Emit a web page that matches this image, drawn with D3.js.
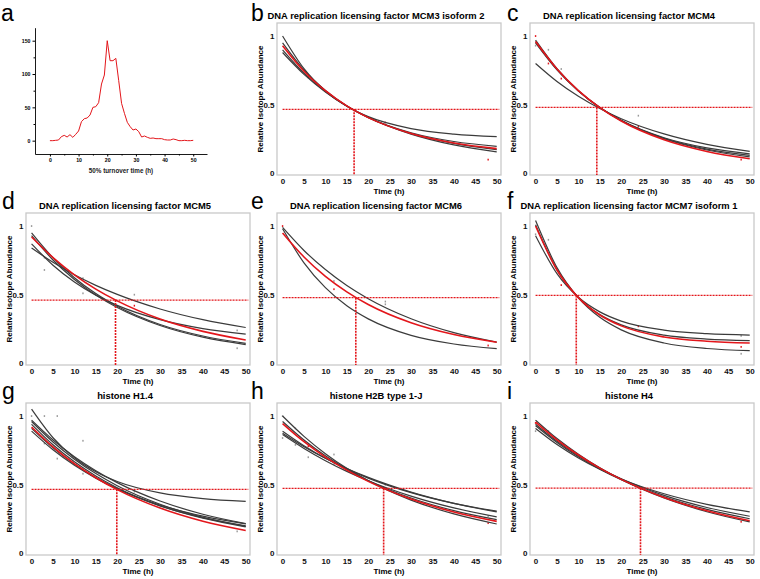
<!DOCTYPE html>
<html>
<head>
<meta charset="utf-8">
<title>Protein turnover curves</title>
<script src="https://cdn.jsdelivr.net/npm/d3@7/dist/d3.min.js"></script>
<style>
body { margin: 0; background: #fff; }
svg text { font-family: "Liberation Sans", Arial, sans-serif; }
</style>
</head>
<body>
<script>
// panel a: distribution of 50% turnover times
var turnoverHours = [0,1,2,3,4,5,6,7,8,9,10,11,12,13,14,15,16,17,18,19,20,21,22,23,24,25,
    26,27,28,29,30,31,32,33,34,35,36,37,38,39,40,41,42,43,44,45,46,47,48,49,50];
var turnoverCounts = [0,0,0.5,1,6,8,5.5,9,5,9.5,14.5,28.5,33,34,38.5,50,51,57,85,98.5,150,120,120,123.5,90,56,
    41,27.5,21,16,17.5,13.5,5.5,7,5,3.5,4,3,3,3,1.5,1,1,2.5,1.5,0,0,0.5,0,0,0.5];
var turnoverTicks = [0,10,20,30,40,50];
var countTicks = [0,50,100,150];

// panels b-i: fitted decay curves, sampled at these times (h)
var sampleTimes = [0,5,10,15,20,30,40,50];
var timeTicks = [0,5,10,15,20,25,30,35,40,45,50];
var abundanceTicks = [0,0.5,1];

var panelLetters = ["b","c","d","e","f","g","h","i"];
var panelTitles = [
    "DNA replication licensing factor MCM3 isoform 2",
    "DNA replication licensing factor MCM4",
    "DNA replication licensing factor MCM5",
    "DNA replication licensing factor MCM6",
    "DNA replication licensing factor MCM7 isoform 1",
    "histone H1.4",
    "histone H2B type 1-J",
    "histone H4"
];
var halfLifeTimes = [16.7, 14.3, 19.6, 17.1, 9.5, 19.9, 23.6, 24.5];
var halfLifeLevels = [0.466, 0.48, 0.461, 0.478, 0.495, 0.466, 0.473, 0.475];

var blackB = [
    [1.00,0.762,0.600,0.489,0.413,0.326,0.286,0.267],
    [0.95,0.752,0.603,0.491,0.407,0.296,0.232,0.197],
    [0.90,0.730,0.596,0.490,0.407,0.290,0.218,0.173],
    [0.88,0.721,0.593,0.490,0.407,0.286,0.207,0.156]
];
var redB = [0.93,0.744,0.602,0.491,0.406,0.290,0.221,0.180];
var blackC = [
    [0.80,0.669,0.561,0.472,0.398,0.287,0.211,0.160],
    [0.97,0.762,0.602,0.480,0.386,0.259,0.185,0.142],
    [0.96,0.758,0.601,0.479,0.385,0.255,0.177,0.131],
    [0.95,0.753,0.600,0.479,0.384,0.252,0.170,0.120]
];
var redC = [0.96,0.760,0.603,0.479,0.381,0.244,0.159,0.106];
var blackD = [
    [0.84,0.736,0.645,0.568,0.502,0.396,0.318,0.261],
    [0.87,0.715,0.593,0.497,0.422,0.318,0.253,0.213],
    [0.95,0.769,0.624,0.508,0.416,0.283,0.199,0.145],
    [0.93,0.753,0.611,0.498,0.407,0.276,0.191,0.137]
];
var redD = [0.92,0.770,0.645,0.541,0.455,0.323,0.233,0.170];
var blackE = [
    [0.99,0.822,0.683,0.567,0.471,0.325,0.224,0.155],
    [0.98,0.732,0.551,0.419,0.324,0.204,0.141,0.107]
];
var redE = [0.95,0.775,0.634,0.521,0.429,0.296,0.210,0.154];
var blackF = [
    [1.04,0.697,0.477,0.335,0.244,0.148,0.108,0.092],
    [1.01,0.681,0.479,0.355,0.280,0.205,0.177,0.166],
    [0.93,0.653,0.481,0.375,0.308,0.242,0.216,0.206]
];
var redF = [1.00,0.680,0.479,0.352,0.273,0.192,0.161,0.148];
var blackG = [
    [1.05,0.842,0.696,0.594,0.523,0.440,0.399,0.379],
    [0.97,0.826,0.704,0.602,0.515,0.381,0.285,0.217],
    [0.96,0.811,0.686,0.581,0.493,0.358,0.263,0.197],
    [0.94,0.791,0.667,0.564,0.478,0.347,0.256,0.193],
    [0.91,0.768,0.650,0.551,0.470,0.346,0.260,0.200],
    [0.89,0.754,0.641,0.548,0.470,0.352,0.271,0.215]
];
var redG = [0.92,0.775,0.653,0.551,0.464,0.330,0.234,0.167];
var blackH = [
    [1.00,0.852,0.726,0.619,0.529,0.388,0.287,0.214],
    [0.96,0.825,0.710,0.613,0.531,0.403,0.311,0.245],
    [0.89,0.784,0.693,0.615,0.548,0.442,0.364,0.307],
    [0.875,0.777,0.692,0.618,0.553,0.446,0.364,0.302],
    [0.865,0.764,0.675,0.597,0.529,0.417,0.331,0.266]
];
var redH = [0.945,0.813,0.701,0.606,0.524,0.395,0.301,0.233];
var blackI = [
    [0.91,0.793,0.695,0.612,0.542,0.434,0.357,0.302],
    [0.94,0.816,0.710,0.620,0.543,0.422,0.334,0.270],
    [0.97,0.836,0.722,0.623,0.538,0.403,0.303,0.229],
    [0.93,0.808,0.703,0.613,0.536,0.412,0.320,0.252]
];
var redI = [0.955,0.826,0.716,0.621,0.539,0.407,0.310,0.237];

// measured points [time, abundance, isRed]
var pointsB = [[6,0.70,1],[24,0.37,1],[48,0.10,1]];
var pointsC = [[0,1.0,1],[0,0.93,0],[3,0.90,0],[3,0.80,1],[6,0.69,1],[6,0.76,0],[24,0.42,0],[24,0.34,1],[48,0.10,1]];
var pointsD = [[0,1.0,0],[3,0.77,0],[3,0.68,0],[12,0.62,0],[12,0.51,0],[24,0.50,0],[24,0.42,1],[48,0.11,0],[48,0.24,0]];
var pointsE = [[0,1.0,1],[12,0.54,1],[12,0.60,0],[24,0.45,0],[24,0.43,0],[48,0.13,1]];
var pointsF = [[0,0.94,0],[3,0.90,0],[6,0.57,1],[24,0.27,1],[48,0.12,1],[48,0.07,0],[48,0.20,0]];
var pointsG = [[0,1.0,0],[3,1.0,0],[6,1.0,0],[3,0.80,0],[6,0.69,0],[12,0.82,0],[12,0.58,0],[24,0.45,0],[48,0.16,0]];
var pointsH = [[0,0.84,0],[0,1.0,0],[3,0.91,0],[3,0.79,0],[6,0.70,0],[6,0.78,1],[12,0.72,0],[12,0.65,0],[24,0.50,0],[48,0.22,1],[48,0.27,0]];
var pointsI = [[0,0.95,1],[0,0.89,0],[3,0.89,0],[48,0.23,1]];

var blackSets = [blackB, blackC, blackD, blackE, blackF, blackG, blackH, blackI];
var redSets = [redB, redC, redD, redE, redF, redG, redH, redI];
var pointSets = [pointsB, pointsC, pointsD, pointsE, pointsF, pointsG, pointsH, pointsI];

var RED = "#e3161b";
var svg = d3.select("body").append("svg")
    .attr("width", 760)
    .attr("height", 579);

// ---- panel a ----
var ax = d3.scaleLinear().domain([-5.2, 54.8]).range([35, 207]);
var ay = d3.scaleLinear().domain([-20, 169.5]).range([154, 27.7]);
var ga = svg.append("g");
ga.append("g")
    .attr("transform", "translate(0,154)")
    .call(d3.axisBottom(ax).tickValues(turnoverTicks).tickSize(2.5).tickPadding(2).tickSizeOuter(0))
    .call(function(g){ g.selectAll("text").attr("font-size", 5.2).attr("font-weight", "bold").attr("font-family", "Liberation Sans"); });
ga.append("g")
    .attr("transform", "translate(0,154)")
    .call(d3.axisBottom(ax).tickValues([5,15,25,35,45]).tickSize(1.5).tickFormat("").tickSizeOuter(0))
    .call(function(g){ g.select(".domain").remove(); });
ga.append("g")
    .attr("transform", "translate(35,0)")
    .call(d3.axisLeft(ay).tickValues(countTicks).tickSize(2.5).tickPadding(2).tickSizeOuter(0))
    .call(function(g){ g.selectAll("text").attr("font-size", 5.2).attr("font-weight", "bold").attr("font-family", "Liberation Sans"); });
ga.append("g")
    .attr("transform", "translate(35,0)")
    .call(d3.axisLeft(ay).tickValues([25,75,125]).tickSize(1.5).tickFormat("").tickSizeOuter(0))
    .call(function(g){ g.select(".domain").remove(); });
ga.selectAll(".domain").attr("stroke-width", 0.9);
ga.append("path")
    .datum(turnoverCounts)
    .attr("fill", "none")
    .attr("stroke", RED)
    .attr("stroke-width", 1)
    .attr("d", d3.line()
        .x(function(d, i){ return ax(turnoverHours[i]); })
        .y(function(d){ return ay(d); }));
ga.append("text")
    .attr("x", 121).attr("y", 173)
    .attr("text-anchor", "middle")
    .attr("font-size", 6.3)
    .attr("font-weight", "bold")
    .attr("fill", "#222")
    .text("50% turnover time (h)");
svg.append("text")
    .attr("x", 1).attr("y", 20.7)
    .attr("font-size", 23)
    .text("a");

// ---- panels b-i ----
var colLeft = [26, 277, 530],
    rowTop = [23, 213, 403],
    letterX = [2, 251, 507],
    letterBase = [21, 208.5, 398.5],
    W = 224, H = 152;

panelTitles.forEach(function(title, i) {
    var slot = i + 1,
        col = slot % 3,
        row = Math.floor(slot / 3),
        left = colLeft[col],
        top = rowTop[row];

    var x = d3.scaleLinear().domain([-1.3, 51]).range([left, left + W]);
    var y = d3.scaleLinear().domain([-0.012, 1.095]).range([top + H, top]);
    var g = svg.append("g");

    g.append("rect")
        .attr("x", left).attr("y", top)
        .attr("width", W).attr("height", H)
        .attr("fill", "none")
        .attr("stroke", "#c9c9c9")
        .attr("stroke-width", 1.3);

    g.append("g")
        .attr("transform", "translate(0," + (top + H) + ")")
        .call(d3.axisBottom(x).tickValues(timeTicks).tickSize(0).tickPadding(3.5))
        .call(function(a){ a.select(".domain").remove(); });
    g.append("g")
        .attr("transform", "translate(" + (left - 0.5) + ",0)")
        .call(d3.axisLeft(y).tickValues(abundanceTicks).tickSize(0).tickPadding(2)
            .tickFormat(function(d){ return d === 0.5 ? "0.5" : d3.format("d")(d); }))
        .call(function(a){ a.select(".domain").remove(); });
    g.selectAll(".tick text")
        .attr("font-size", 8)
        .attr("font-weight", "bold")
        .attr("font-family", "Liberation Sans")
        .attr("fill", "#111");

    g.append("text")
        .attr("x", left + W / 2).attr("y", top + H + 18.5)
        .attr("text-anchor", "middle")
        .attr("font-size", 8).attr("font-weight", "bold")
        .text("Time (h)");
    g.append("text")
        .attr("transform", "translate(" + (left - 14) + "," + (top + H / 2) + ") rotate(-90)")
        .attr("text-anchor", "middle")
        .attr("font-size", 8).attr("font-weight", "bold")
        .text("Relative Isotope Abundance");
    g.append("text")
        .attr("x", left + W / 2 - 13).attr("y", top - 4.5)
        .attr("text-anchor", "middle")
        .attr("font-size", 9.4).attr("font-weight", "bold")
        .text(title);
    svg.append("text")
        .attr("x", letterX[col]).attr("y", letterBase[row])
        .attr("font-size", 23)
        .text(panelLetters[i]);

    var line = d3.line()
        .x(function(d, j){ return x(sampleTimes[j]); })
        .y(function(d){ return y(d); })
        .curve(d3.curveMonotoneX);

    g.selectAll("rect.pt")
        .data(pointSets[i])
        .enter().append("rect")
        .attr("class", "pt")
        .attr("x", function(d){ return x(d[0]) - 0.7; })
        .attr("y", function(d){ return y(d[1]) - 0.9; })
        .attr("width", 1.4).attr("height", 1.8)
        .attr("fill", function(d){ return d[2] ? RED : "#9a9a9a"; });

    g.selectAll("path.fit")
        .data(blackSets[i])
        .enter().append("path")
        .attr("class", "fit")
        .attr("fill", "none")
        .attr("stroke", "#3b3b3b")
        .attr("stroke-width", 1.2)
        .attr("d", line);
    g.append("path")
        .datum(redSets[i])
        .attr("fill", "none")
        .attr("stroke", RED)
        .attr("stroke-width", 1.6)
        .attr("d", line);

    g.append("line")
        .attr("x1", x(0)).attr("x2", x(50.6))
        .attr("y1", y(halfLifeLevels[i])).attr("y2", y(halfLifeLevels[i]))
        .attr("stroke", RED).attr("stroke-width", 1.2)
        .attr("stroke-dasharray", "2,1");
    g.append("line")
        .attr("x1", x(halfLifeTimes[i])).attr("x2", x(halfLifeTimes[i]))
        .attr("y1", y(halfLifeLevels[i])).attr("y2", top + H)
        .attr("stroke", RED).attr("stroke-width", 1.6)
        .attr("stroke-dasharray", "2,1");
});
</script>
</body>
</html>
